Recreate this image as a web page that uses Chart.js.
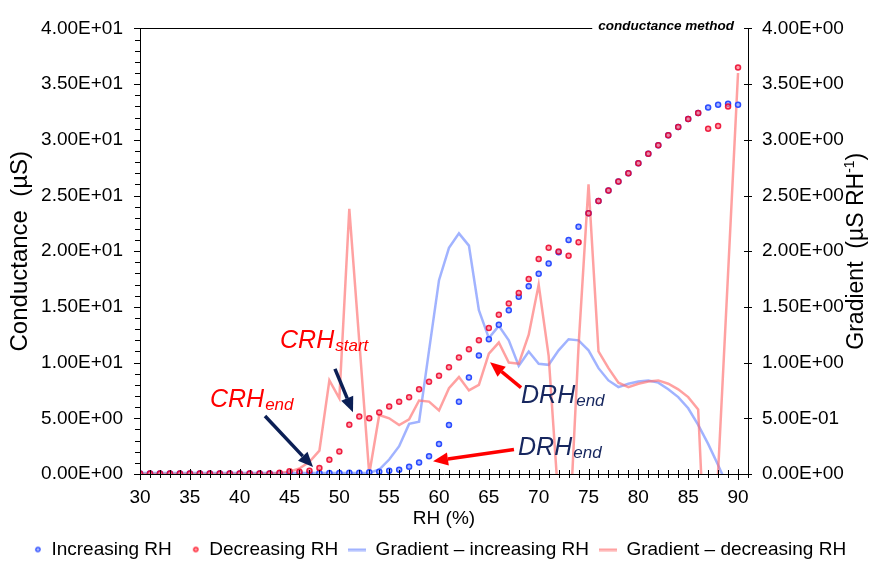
<!DOCTYPE html>
<html>
<head>
<meta charset="utf-8">
<script src="https://cdn.jsdelivr.net/npm/chart.js@4.4.1/dist/chart.umd.min.js"></script>
<style>
  html, body { margin: 0; padding: 0; background: #ffffff; }
  #wrap { width: 870px; height: 562px; }
</style>
</head>
<body>
<div id="wrap"><canvas id="chart" width="870" height="562"></canvas></div>
<script>
// Relative humidity steps (%)
const rh = [30, 31, 32, 33, 34, 35, 36, 37, 38, 39, 40, 41, 42, 43, 44, 45, 46, 47, 48, 49,
            50, 51, 52, 53, 54, 55, 56, 57, 58, 59, 60, 61, 62, 63, 64, 65, 66, 67, 68, 69,
            70, 71, 72, 73, 74, 75, 76, 77, 78, 79, 80, 81, 82, 83, 84, 85, 86, 87, 88, 89, 90];

// Conductance (µS) while RH is increasing
const increasingRH = [0.05, 0.05, 0.05, 0.05, 0.05, 0.05, 0.05, 0.05, 0.05, 0.05, 0.05, 0.05, 0.05, 0.05, 0.05,
                      0.06, 0.06, 0.07, 0.08, 0.09, 0.10, 0.11, 0.12, 0.15, 0.20, 0.29, 0.38, 0.64, 1.03, 1.59,
                      2.70, 4.40, 6.49, 8.66, 10.63, 12.10, 13.40, 14.70, 15.90, 16.85, 17.97, 18.90, 19.90, 21.00, 22.20,
                      23.40, 24.50, 25.46, 26.26, 27.00, 27.90, 28.75, 29.50, 30.40, 31.16, 31.87, 32.40, 32.90, 33.15, 33.24, 33.15];

// Conductance (µS) while RH is decreasing
const decreasingRH = [0.05, 0.05, 0.05, 0.05, 0.05, 0.05, 0.05, 0.05, 0.05, 0.05, 0.05, 0.05, 0.05, 0.05,
                      0.11, 0.24, 0.20, 0.30, 0.53, 1.29, 2.03, 4.43, 5.17, 5.00, 5.52, 6.05, 6.49, 6.90, 7.60, 8.28,
                      8.81, 9.58, 10.46, 11.20, 12.00, 13.10, 14.30, 15.30, 16.24, 17.50, 19.30, 20.30, 19.97, 19.60, 20.80,
                      23.40, 24.50, 25.46, 26.26, 27.00, 27.90, 28.75, 29.50, 30.40, 31.16, 31.87, 32.40, 31.00, 31.25, 33.00, 36.50];

// Gradient (µS per %RH), increasing branch
const gradientIncreasing = [0.01, 0.01, 0.01, 0.01, 0.01, 0.01, 0.01, 0.01, 0.01, 0.01, 0.01, 0.01, 0.01, 0.01, 0.01,
                            0.01, 0.01, 0.01, 0.01, 0.01, 0.01, 0.01, 0.01, 0.01, 0.04, 0.13, 0.25, 0.45, 0.47, 1.11,
                            1.74, 2.03, 2.16, 2.05, 1.47, 1.22, 1.33, 1.20, 0.97, 1.10, 0.99, 0.98, 1.11, 1.21, 1.20,
                            1.11, 0.95, 0.84, 0.78, 0.81, 0.83, 0.84, 0.82, 0.76, 0.69, 0.59, 0.44, 0.27, 0.08, -0.12, -0.30];

// Gradient (µS per %RH), decreasing branch
const gradientDecreasing = [0, 0, 0, 0, 0, 0, 0, 0, 0, 0, 0, 0, 0, 0,
                            0.01, 0.02, 0.05, 0.11, 0.21, 0.84, 0.68, 2.38, 1.19, 0.00, 0.53, 0.50, 0.44, 0.49, 0.66, 0.65,
                            0.57, 0.77, 0.87, 0.75, 0.80, 1.08, 1.18, 1.00, 0.99, 1.25, 1.70, 1.06, -0.27, -0.68, 1.15,
                            2.60, 1.10, 0.95, 0.82, 0.78, 0.81, 0.83, 0.84, 0.81, 0.76, 0.69, 0.58, -1.35, 0.02, 1.80, 3.60];

// Tick values
const rhTicks = [30, 35, 40, 45, 50, 55, 60, 65, 70, 75, 80, 85, 90];
const conductanceTicks = [0, 5, 10, 15, 20, 25, 30, 35, 40];
const gradientTicks = [0, 0.5, 1, 1.5, 2, 2.5, 3, 3.5, 4];

const seriesNames = ['Increasing RH', 'Decreasing RH', 'Gradient \u2013 increasing RH', 'Gradient \u2013 decreasing RH'];

// Labelled points of interest, in data units (RH %, conductance µS)
const labels = [
  { main: 'CRH', sub: 'start', color: '#ff0000', x: 44.05, y: 11.28 },
  { main: 'CRH', sub: 'end',   color: '#ff0000', x: 37.02, y: 5.99 },
  { main: 'DRH', sub: 'end',   color: '#17275f', x: 68.23, y: 6.34 },
  { main: 'DRH', sub: 'end',   color: '#17275f', x: 67.93, y: 1.67 }
];
const arrows = [
  { from: [49.56, 9.43], to: [51.37, 5.55], color: '#0b1f55' },
  { from: [42.54, 5.20], to: [47.36, 0.62], color: '#0b1f55' },
  { from: [68.23, 7.75], to: [65.12, 10.04], color: '#ff0000' },
  { from: [67.52, 2.20], to: [59.40, 1.15], color: '#ff0000' }
];

const FONT = '"Liberation Sans", Arial, Helvetica, sans-serif';
Chart.defaults.font.family = FONT;
Chart.defaults.color = '#000000';

const pairs = vals => rh.map((x, i) => ({ x: x, y: vals[i] }));

function sci(v) {
  if (Math.abs(v) < 1e-12) return '0.00E+00';
  const e = Math.floor(Math.log10(Math.abs(v)) + 1e-9);
  const m = v / Math.pow(10, e);
  return m.toFixed(2) + 'E' + (e < 0 ? '-' : '+') + String(Math.abs(e)).padStart(2, '0');
}

const BLUE_PT = '#2b4cff', BLUE_PT_FILL = '#a7b6ff';
const RED_PT = 'rgba(235,0,40,0.85)', RED_PT_FILL = 'rgba(255,120,135,0.7)';
const BLUE_LINE = 'rgba(110,138,255,0.65)', RED_LINE = 'rgba(255,110,110,0.65)';

// Small legend symbols
function markerSymbol(stroke, fill) {
  const c = document.createElement('canvas');
  c.width = 18; c.height = 8;
  const g = c.getContext('2d');
  g.beginPath(); g.arc(14, 4, 2.2, 0, Math.PI * 2);
  g.fillStyle = fill; g.fill();
  g.lineWidth = 1.2; g.strokeStyle = stroke; g.stroke();
  return c;
}
function lineSymbol(color) {
  const c = document.createElement('canvas');
  c.width = 18; c.height = 4;
  const g = c.getContext('2d');
  g.fillStyle = color; g.fillRect(0, 1, 18, 2.5);
  return c;
}
const legendSymbols = [markerSymbol(BLUE_PT, BLUE_PT_FILL), markerSymbol('#ff2030', '#ff9aa5'),
                       lineSymbol(BLUE_LINE), lineSymbol(RED_LINE)];

function fixTicks(values) {
  return scale => { scale.ticks = values.map(v => ({ value: v })); };
}

// Tick marks, partial top frame, corner caption, right axis title and annotations
const decorations = {
  id: 'decorations',
  afterDraw(chart) {
    const { ctx, chartArea: a, scales } = chart;
    const x = scales.x, y = scales.y, y1 = scales.y1;
    ctx.save();
    ctx.strokeStyle = '#000'; ctx.lineWidth = 1;
    ctx.beginPath();
    for (let v = 30; v <= 91; v++) {
      const px = Math.round(x.getPixelForValue(v)) + 0.5;
      const major = v % 5 === 0;
      ctx.moveTo(px, a.bottom - (major ? 5 : 4));
      ctx.lineTo(px, a.bottom + (major ? 6 : 4));
    }
    for (let v = 0; v <= 40; v++) {
      const py = Math.round(y.getPixelForValue(v)) + 0.5;
      const major = v % 5 === 0;
      ctx.moveTo(a.left - (major ? 6 : 5), py);
      ctx.lineTo(a.left + (major ? 1 : 0), py);
    }
    gradientTicks.forEach(v => {
      const py = Math.round(y1.getPixelForValue(v)) + 0.5;
      ctx.moveTo(a.right - 4, py);
      ctx.lineTo(a.right + 4, py);
    });
    ctx.stroke();

    // caption in the top-right corner, with the frame running up to it
    ctx.font = 'bold italic 13.5px ' + FONT;
    ctx.fillStyle = '#000';
    ctx.textAlign = 'right'; ctx.textBaseline = 'middle';
    const capRight = a.right - 14;
    ctx.fillText('conductance method', capRight, a.top - 2);
    const capW = ctx.measureText('conductance method').width;
    ctx.beginPath();
    ctx.moveTo(a.left, Math.round(a.top) + 0.5);
    ctx.lineTo(capRight - capW - 6, Math.round(a.top) + 0.5);
    ctx.stroke();

    // right axis title, reading bottom-to-top, with superscript
    ctx.save();
    ctx.translate(857, (a.top + a.bottom) / 2);
    ctx.rotate(-Math.PI / 2);
    ctx.textBaseline = 'middle'; ctx.textAlign = 'left';
    const big = '23px ' + FONT, small = '14px ' + FONT;
    const p1 = 'Gradient  (\u00b5S RH', p2 = '-1', p3 = ')';
    ctx.font = big; const w1 = ctx.measureText(p1).width; const w3 = ctx.measureText(p3).width;
    ctx.font = small; const w2 = ctx.measureText(p2).width;
    let sx = -(w1 + w2 + w3) / 2;
    ctx.font = big; ctx.fillText(p1, sx, 0); sx += w1;
    ctx.font = small; ctx.fillText(p2, sx, -7); sx += w2;
    ctx.font = big; ctx.fillText(p3, sx, 0);
    ctx.restore();

    // arrows
    arrows.forEach(ar => {
      const x1 = x.getPixelForValue(ar.from[0]), y1p = y.getPixelForValue(ar.from[1]);
      const x2 = x.getPixelForValue(ar.to[0]), y2p = y.getPixelForValue(ar.to[1]);
      const ang = Math.atan2(y2p - y1p, x2 - x1);
      const head = 15, half = 6.5;
      const bx = x2 - head * Math.cos(ang), by = y2p - head * Math.sin(ang);
      ctx.strokeStyle = ar.color; ctx.fillStyle = ar.color;
      ctx.lineWidth = 3.5; ctx.lineCap = 'butt';
      ctx.beginPath(); ctx.moveTo(x1, y1p); ctx.lineTo(bx, by); ctx.stroke();
      ctx.beginPath();
      ctx.moveTo(x2, y2p);
      ctx.lineTo(bx + half * Math.sin(ang), by - half * Math.cos(ang));
      ctx.lineTo(bx - half * Math.sin(ang), by + half * Math.cos(ang));
      ctx.closePath(); ctx.fill();
    });

    // annotation labels with subscripts
    ctx.textAlign = 'left'; ctx.textBaseline = 'alphabetic';
    labels.forEach(l => {
      const px = x.getPixelForValue(l.x), py = y.getPixelForValue(l.y);
      ctx.fillStyle = l.color;
      ctx.font = 'italic 25px ' + FONT;
      ctx.fillText(l.main, px, py);
      const w = ctx.measureText(l.main).width;
      ctx.font = 'italic 17px ' + FONT;
      ctx.fillText(l.sub, px + w + 1, py + 3);
    });
    ctx.restore();
  }
};

new Chart(document.getElementById('chart'), {
  type: 'line',
  data: {
    datasets: [
      { label: seriesNames[0], data: pairs(increasingRH), yAxisID: 'y', showLine: false,
        pointRadius: 2.5, pointBorderWidth: 1.5, pointBorderColor: BLUE_PT, pointBackgroundColor: BLUE_PT_FILL, order: 1 },
      { label: seriesNames[1], data: pairs(decreasingRH), yAxisID: 'y', showLine: false,
        pointRadius: 2.5, pointBorderWidth: 1.5, pointBorderColor: RED_PT, pointBackgroundColor: RED_PT_FILL, order: 0 },
      { label: seriesNames[2], data: pairs(gradientIncreasing), yAxisID: 'y1', pointRadius: 0,
        borderColor: BLUE_LINE, borderWidth: 2.5, tension: 0, order: 3 },
      { label: seriesNames[3], data: pairs(gradientDecreasing), yAxisID: 'y1', pointRadius: 0,
        borderColor: RED_LINE, borderWidth: 2.5, tension: 0, order: 2 }
    ]
  },
  options: {
    responsive: false,
    animation: false,
    devicePixelRatio: 1,
    layout: { padding: { top: 20, left: 0, right: 0, bottom: -7 } },
    plugins: {
      tooltip: { enabled: false },
      legend: {
        position: 'bottom',
        labels: {
          usePointStyle: true,
          pointStyleWidth: 18,
          padding: 10,
          font: { size: 19 },
          color: '#000',
          generateLabels: () => seriesNames.map((t, i) => ({
            text: t, pointStyle: legendSymbols[i], fillStyle: 'rgba(0,0,0,0)',
            strokeStyle: 'rgba(0,0,0,0)', lineWidth: 0, hidden: false, datasetIndex: i, fontColor: '#000'
          }))
        }
      }
    },
    scales: {
      x: {
        type: 'linear', min: 30, max: 91,
        afterBuildTicks: fixTicks(rhTicks),
        afterFit: s => { s.height = 56; },
        grid: { display: false, drawTicks: false, tickLength: 0 },
        border: { display: true, color: '#000', width: 1 },
        ticks: { font: { size: 19 }, color: '#000', padding: 12, maxRotation: 0, autoSkip: false },
        title: { display: true, text: 'RH (%)', font: { size: 19 }, color: '#000', padding: { top: 0, bottom: 0 } }
      },
      y: {
        position: 'left', min: 0, max: 40,
        afterBuildTicks: fixTicks(conductanceTicks),
        afterFit: s => { s.width = 140; },
        grid: { display: false, drawTicks: false, tickLength: 0 },
        border: { display: true, color: '#000', width: 1 },
        ticks: { font: { size: 19 }, color: '#000', padding: 17, callback: v => sci(v) },
        title: { display: true, text: 'Conductance  (\u00b5S)', font: { size: 24 }, color: '#000', padding: { top: 6, bottom: 0 } }
      },
      y1: {
        position: 'right', min: 0, max: 4,
        afterBuildTicks: fixTicks(gradientTicks),
        afterFit: s => { s.width = 122; },
        grid: { display: false, drawTicks: false, tickLength: 0 },
        border: { display: true, color: '#000', width: 1 },
        ticks: { font: { size: 19 }, color: '#000', padding: 14, callback: v => sci(v) }
      }
    }
  },
  plugins: [decorations]
});
</script>
</body>
</html>
